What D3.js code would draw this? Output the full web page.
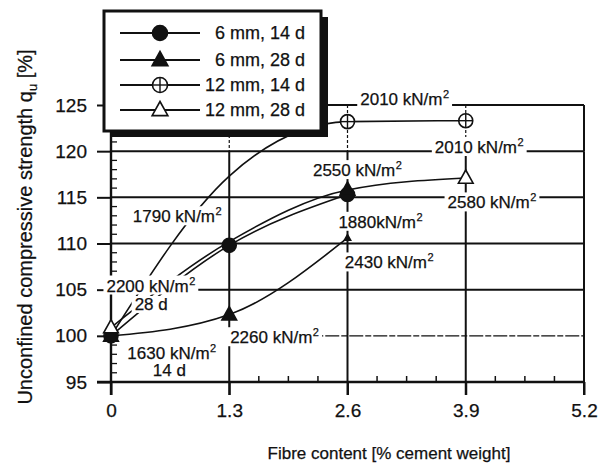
<!DOCTYPE html>
<html>
<head>
<meta charset="utf-8">
<script src="https://cdn.jsdelivr.net/npm/d3@7"></script>
<style>
body { margin: 0; background: #fff; }
text { font-family: "Liberation Sans", Arial, sans-serif; fill: #111; stroke: #111; stroke-width: 0.25px; }
</style>
</head>
<body>
<div id="chart"></div>
<script>
// values (percent of the fibre-free strength)
const fibre = [0, 1.3, 2.6, 3.9];
const mm6d14 = [100, 109.8, 115.3, null];
const mm6d28 = [100, 102.3, 110.6, null];
const mm12d14 = [100, 117.3, 123.2, 123.3];
const mm12d28 = [100.9, 110.2, 115.8, 117.1];
const legendNames = ["6 mm, 14 d", "6 mm, 28 d", "12 mm, 14 d", "12 mm, 28 d"];
const xTicks = [0, 1.3, 2.6, 3.9, 5.2];
const yTicks = [95, 100, 105, 110, 115, 120, 125];

// strength annotations: text, fibre, strength (where the text starts)
const notes = [
    ["2010 kN/m²", 2.74, 125.0],
    ["2010 kN/m²", 3.56, 119.8],
    ["2550 kN/m²", 2.22, 117.3],
    ["2580 kN/m²", 3.70, 113.8],
    ["1880kN/m²", 2.50, 111.7],
    ["2430 kN/m²", 2.57, 107.3],
    ["1790 kN/m²", 0.24, 112.3],
    ["2200 kN/m²", -0.05, 104.8],
    ["28 d", 0.26, 102.8],
    ["1630 kN/m²", 0.18, 97.5],
    ["14 d", 0.46, 95.6],
    ["2260 kN/m²", 1.31, 99.2]
];

const W = 606, H = 463;
const svg = d3.select("#chart").append("svg").attr("width", W).attr("height", H);

const x = d3.scaleLinear().domain([0, 5.2]).range([111, 584]);
const y = d3.scaleLinear().domain([95, 125]).range([382, 105]);

// grid
const grid = svg.append("g").attr("stroke", "#111");
[105, 110, 115, 120, 125].forEach(v => {
    grid.append("line").attr("x1", x(0)).attr("x2", x(5.2)).attr("y1", y(v)).attr("y2", y(v)).attr("stroke-width", 2);
});
grid.append("line").attr("x1", x(1.3)).attr("x2", x(5.2)).attr("y1", y(100)).attr("y2", y(100))
    .attr("stroke-width", 1.4).attr("stroke-dasharray", "14,2,6,2");
[1.3, 2.6, 3.9, 5.2].forEach(v => {
    grid.append("line").attr("x1", x(v)).attr("x2", x(v)).attr("y1", y(120)).attr("y2", 395).attr("stroke-width", 2);
    grid.append("line").attr("x1", x(v)).attr("x2", x(v)).attr("y1", y(125)).attr("y2", y(120))
        .attr("stroke-width", v === 5.2 ? 2 : 1.2).attr("stroke-dasharray", v === 5.2 ? null : "3,2");
});
// axis lines
grid.append("line").attr("x1", 97).attr("x2", x(5.2)).attr("y1", y(95)).attr("y2", y(95)).attr("stroke-width", 2.4);
grid.append("line").attr("x1", x(0)).attr("x2", x(0)).attr("y1", y(125)).attr("y2", 395).attr("stroke-width", 2.4);

// minor ticks
d3.range(96, 125).filter(v => v % 5 !== 0 && (v < 101 || v > 104)).forEach(v => {
    grid.append("line").attr("x1", x(0)).attr("x2", x(0) + 6).attr("y1", y(v)).attr("y2", y(v)).attr("stroke-width", 1.3);
});
[1.3, 2.6, 3.9].forEach(s => {
    [1, 2, 3].forEach(k => {
        const v = s + k * 0.325;
        grid.append("line").attr("x1", x(v)).attr("x2", x(v)).attr("y1", y(95) - 6).attr("y2", y(95) - 1).attr("stroke-width", 1.5);
    });
});

const yAxis = svg.append("g").attr("transform", `translate(${x(0)},0)`)
    .call(d3.axisLeft(y).tickValues(yTicks).tickSize(14).tickPadding(10));
const xAxis = svg.append("g").attr("transform", `translate(0,${y(95)})`)
    .call(d3.axisBottom(x).tickValues(xTicks).tickFormat(d => d === 0 ? "0" : d.toFixed(1)).tickSize(13).tickPadding(8.5));
[yAxis, xAxis].forEach(a => {
    a.select(".domain").remove();
    a.selectAll("line").attr("stroke", "#111").attr("stroke-width", 2);
    a.selectAll("text").attr("font-size", 19).attr("fill", "#111");
});

// axis titles
svg.append("text").attr("x", 389).attr("y", 459).attr("text-anchor", "middle").attr("font-size", 17)
    .text("Fibre content [% cement weight]");
const yt = svg.append("text").attr("transform", "translate(32,227) rotate(-90)").attr("text-anchor", "middle").attr("font-size", 20);
yt.append("tspan").text("Unconfined compressive strength q");
yt.append("tspan").attr("font-size", 13).attr("dy", 5).text("u");
yt.append("tspan").attr("dy", -5).text(" [%]");

// series
const series = [
    { vals: mm6d14, shape: "circle", fill: true, marks: [0, 1, 2] },
    { vals: mm6d28, shape: "triangle", fill: true, marks: [0, 1, 2], small: [2] },
    { vals: mm12d14, shape: "circle", fill: false, marks: [2, 3] },
    { vals: mm12d28, shape: "triangle", fill: false, marks: [0, 3], solid: [2] }
];
const line = d3.line().defined(d => d[1] != null).x(d => x(d[0])).y(d => y(d[1])).curve(d3.curveMonotoneX);
series.forEach(s => {
    const pts = fibre.map((f, i) => [f, s.vals[i]]);
    svg.append("path").attr("d", line(pts)).attr("fill", "none").attr("stroke", "#111").attr("stroke-width", 1.6);
});

// annotations with white boxes breaking the lines
notes.forEach(([t, fx, fy]) => {
    const g = svg.append("g");
    const parts = t.split("²");
    const tx = g.append("text").attr("x", x(fx)).attr("y", y(fy)).attr("font-size", 17);
    tx.append("tspan").text(parts[0]);
    if (parts.length > 1) tx.append("tspan").attr("font-size", 11).attr("dy", -7).attr("dx", 0.5).text("2");
    const b = tx.node().getBBox();
    g.insert("rect", "text").attr("x", b.x - 3).attr("y", b.y + 1).attr("width", b.width + 6).attr("height", b.height - 2).attr("fill", "#fff");
});

function marker(g, shape, cx, cy, filled, size) {
    if (shape === "circle") {
        g.append("circle").attr("cx", cx).attr("cy", cy).attr("r", size)
            .attr("fill", filled ? "#111" : "#fff").attr("stroke", "#111").attr("stroke-width", 1.6);
        if (!filled) {
            g.append("line").attr("x1", cx - size).attr("x2", cx + size).attr("y1", cy).attr("y2", cy).attr("stroke", "#111").attr("stroke-width", 1.4);
            g.append("line").attr("x1", cx).attr("x2", cx).attr("y1", cy - size).attr("y2", cy + size).attr("stroke", "#111").attr("stroke-width", 1.4);
        }
    } else {
        const s = size * 2.1;
        const h = s * 0.9;
        g.append("path").attr("d", `M${cx},${cy - h * 0.6}L${cx + s / 2},${cy + h * 0.4}L${cx - s / 2},${cy + h * 0.4}Z`)
            .attr("fill", filled ? "#111" : "#fff").attr("stroke", "#111").attr("stroke-width", 1.6);
    }
}

const marks = svg.append("g");
series.forEach(s => {
    s.marks.forEach(i => marker(marks, s.shape, x(fibre[i]), y(s.vals[i]), s.fill, (s.small || []).includes(i) ? 3 : 7));
    (s.solid || []).forEach(i => marker(marks, s.shape, x(fibre[i]), y(s.vals[i]), true, 7));
});

// legend
svg.append("rect").attr("x", 110).attr("y", 17).attr("width", 218).attr("height", 120).attr("fill", "#111");
svg.append("rect").attr("x", 104).attr("y", 11).attr("width", 217).attr("height", 120)
    .attr("fill", "#fff").attr("stroke", "#111").attr("stroke-width", 3);
const legRows = [33, 60, 85, 110];
series.forEach((s, i) => {
    const g = svg.append("g");
    g.append("line").attr("x1", 120).attr("x2", 200).attr("y1", legRows[i]).attr("y2", legRows[i]).attr("stroke", "#111").attr("stroke-width", 1.8);
    marker(g, s.shape, 160, legRows[i], s.fill, 7.5);
    g.append("text").attr("x", 305).attr("y", legRows[i]).attr("dy", "0.36em").attr("text-anchor", "end")
        .attr("font-size", 18).text(legendNames[i]);
});
</script>
</body>
</html>
